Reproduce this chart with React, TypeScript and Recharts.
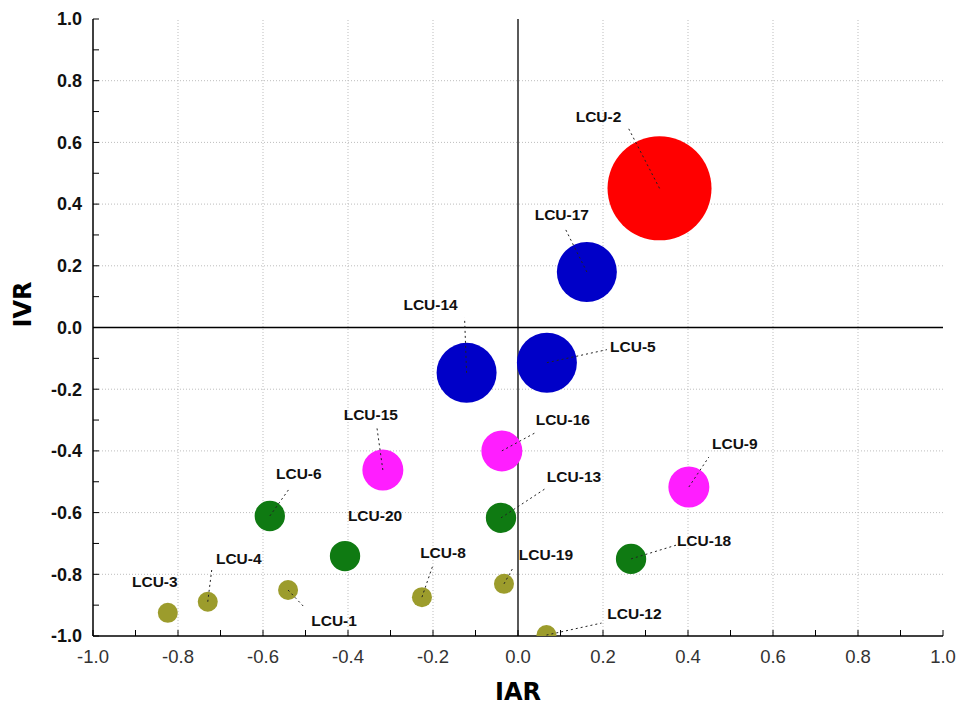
import React from 'react';
import { ScatterChart, Scatter, XAxis, YAxis, ZAxis, ReferenceLine, Cell, LabelList } from 'recharts';

// bubble values
const names = ['LCU-2', 'LCU-17', 'LCU-14', 'LCU-5', 'LCU-15', 'LCU-16', 'LCU-9', 'LCU-6', 'LCU-13', 'LCU-20', 'LCU-18', 'LCU-3', 'LCU-4', 'LCU-1', 'LCU-8', 'LCU-19', 'LCU-12'];
const iar = [0.333, 0.162, -0.121, 0.068, -0.318, -0.038, 0.402, -0.584, -0.04, -0.407, 0.266, -0.824, -0.73, -0.541, -0.226, -0.033, 0.067];
const ivr = [0.451, 0.18, -0.147, -0.114, -0.462, -0.4, -0.517, -0.611, -0.617, -0.741, -0.75, -0.925, -0.889, -0.851, -0.874, -0.831, -0.997];
const weight = [27.04, 9, 9, 9, 4.2, 4.2, 4.2, 2.3, 2.3, 2.3, 2.3, 1, 1, 1, 1, 1, 1];
const group = ['red', 'blue', 'blue', 'blue', 'magenta', 'magenta', 'magenta', 'green', 'green', 'green', 'green', 'olive', 'olive', 'olive', 'olive', 'olive', 'olive'];

const allTicks = [-1.0, -0.9, -0.8, -0.7, -0.6, -0.5, -0.4, -0.3, -0.2, -0.1, 0.0, 0.1, 0.2, 0.3, 0.4, 0.5, 0.6, 0.7, 0.8, 0.9, 1.0];
const gridValues = [-0.8, -0.6, -0.4, -0.2, 0.2, 0.4, 0.6, 0.8];

const groupColors: Record<string, string> = {
  red: '#ff0000',
  blue: '#0000c8',
  magenta: '#ff1eff',
  green: '#0f7a12',
  olive: '#9c9c2c',
};

// label text offset [dx, dy] and leader end [lx, ly], relative to bubble centre (px)
const labelOffsets: Record<string, number[]> = {
  'LCU-2': [-61, -72, -31, -60],
  'LCU-17': [-25, -57, -22, -44],
  'LCU-14': [-36, -68, -2, -55],
  'LCU-5': [86, -16, 60, -13],
  'LCU-15': [-12, -56, -6, -43],
  'LCU-16': [61, -31, 35, -19],
  'LCU-9': [46, -43, 20, -30],
  'LCU-6': [29, -42, 20, -28],
  'LCU-13': [73, -41, 44, -29],
  'LCU-20': [30, -41],
  'LCU-18': [73, -18, 46, -14],
  'LCU-3': [-13, -31],
  'LCU-4': [31, -43, 4, -32],
  'LCU-1': [46, 30, 17, 18],
  'LCU-8': [21, -45, 11, -32],
  'LCU-19': [42, -29, 9, -16],
  'LCU-12': [88, -22, 55, -12],
};

const data = names.map((name, i) => ({ name, iar: iar[i], ivr: ivr[i], weight: weight[i], group: group[i] }));

const fmt = (v: number) => (Math.round(v * 10) % 2 === 0 ? v.toFixed(1) : '');

const BubbleLabel = (props: any) => {
  const vb = props.viewBox ?? props;
  const cx = vb.x + vb.width / 2;
  const cy = vb.y + vb.height / 2;
  const off = labelOffsets[props.value] ?? [0, -20];
  return (
    <g>
      {off.length > 2 && (
        <line x1={cx} y1={cy} x2={cx + off[2]} y2={cy + off[3]} stroke="#222" strokeWidth={1} strokeDasharray="2 3" />
      )}
      <text
        x={cx + off[0]}
        y={cy + off[1]}
        textAnchor="middle"
        dominantBaseline="central"
        fontFamily="'Liberation Sans', Arial, sans-serif"
        fontWeight="bold"
        fontSize={15.5}
        fill="#111"
      >
        {props.value}
      </text>
    </g>
  );
};

export default function App() {
  return (
    <div style={{ position: 'absolute', left: 0, top: 0, background: '#fff' }}>
      <ScatterChart width={959} height={708} margin={{ top: 19, right: 16, bottom: 0, left: 0 }}>
        <XAxis
          xAxisId={0}
          type="number"
          dataKey="iar"
          domain={[-1, 1]}
          ticks={allTicks}
          allowDataOverflow
          interval={0}
          height={72}
          tickSize={-6}
          tickMargin={20}
          tickFormatter={fmt}
          tick={{ fill: '#333', fontSize: 18.5, fontFamily: "'Liberation Sans', Arial, sans-serif" }}
          axisLine={{ stroke: '#000', strokeWidth: 1.5 }}
          tickLine={{ stroke: '#000' }}
          label={{ value: 'IAR', position: 'insideBottom', offset: 8, fill: '#000', fontSize: 24, fontWeight: 'bold', fontFamily: "'DejaVu Sans', sans-serif" }}
        />
        <XAxis
          xAxisId="top"
          orientation="top"
          type="number"
          domain={[-1, 1]}
          ticks={allTicks}
          allowDataOverflow
          interval={0}
          height={0}
          tickSize={-6}
          tick={false}
          axisLine={{ stroke: '#000', strokeWidth: 1.5 }}
          tickLine={{ stroke: '#000' }}
        />
        <YAxis
          yAxisId={0}
          type="number"
          dataKey="ivr"
          domain={[-1, 1]}
          ticks={allTicks}
          allowDataOverflow
          interval={0}
          width={93}
          tickSize={-6}
          tickMargin={17}
          tickFormatter={fmt}
          tick={{ fill: '#111', fontSize: 18, fontWeight: 'bold', fontFamily: "'Liberation Sans', Arial, sans-serif" }}
          axisLine={{ stroke: '#000', strokeWidth: 1.5 }}
          tickLine={{ stroke: '#000' }}
          label={{ value: 'IVR', angle: -90, position: 'insideLeft', offset: 22, fill: '#000', fontSize: 24, fontWeight: 'bold', fontFamily: "'DejaVu Sans', sans-serif" }}
        />
        <YAxis
          yAxisId="right"
          orientation="right"
          type="number"
          domain={[-1, 1]}
          ticks={allTicks}
          allowDataOverflow
          interval={0}
          width={0}
          tickSize={-6}
          tick={false}
          axisLine={{ stroke: '#000', strokeWidth: 1.5 }}
          tickLine={{ stroke: '#000' }}
        />
        <ZAxis type="number" dataKey="weight" domain={[1, 27.04]} range={[314.16, 8494.9]} />
        {gridValues.map((v) => (
          <ReferenceLine key={'gx' + v} x={v} stroke="#bdbdbd" strokeDasharray="1 2" />
        ))}
        {gridValues.map((v) => (
          <ReferenceLine key={'gy' + v} y={v} stroke="#bdbdbd" strokeDasharray="1 2" />
        ))}
        <ReferenceLine x={0} stroke="#000" strokeWidth={1.3} />
        <ReferenceLine y={0} stroke="#000" strokeWidth={1.3} />
        <Scatter data={data} isAnimationActive={false}>
          {data.map((d) => (
            <Cell key={d.name} fill={groupColors[d.group]} />
          ))}
          <LabelList dataKey="name" content={BubbleLabel} />
        </Scatter>
      </ScatterChart>
    </div>
  );
}
